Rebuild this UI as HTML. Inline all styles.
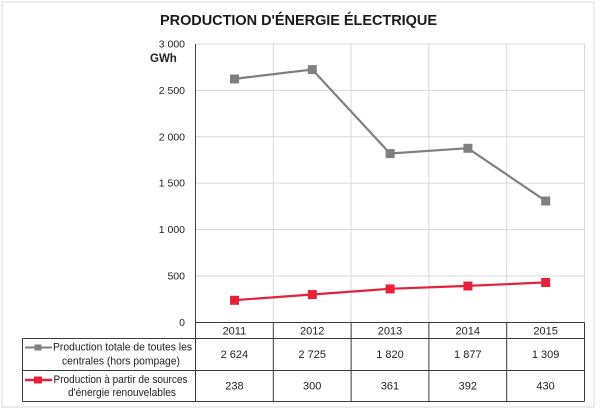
<!DOCTYPE html>
<html><head><meta charset="utf-8"><style>
html,body{margin:0;padding:0;background:#fff;}
svg{display:block;}
text{font-family:"Liberation Sans",Arial,sans-serif;fill:#222;}
</style></head><body>
<svg width="600" height="410" viewBox="0 0 600 410" xmlns="http://www.w3.org/2000/svg">
<rect x="0" y="0" width="600" height="410" fill="#fff"/>
<rect x="2" y="2" width="592" height="405" fill="none" stroke="#d9d9d9" stroke-width="1"/>
<text x="298.5" y="25" font-size="14.5" font-weight="bold" text-anchor="middle" textLength="277" lengthAdjust="spacing" style="fill:#1a1a1a">PRODUCTION D'ÉNERGIE ÉLECTRIQUE</text>
<!-- horizontal gridlines -->
<g stroke="#d9d9d9" stroke-width="1">
<line x1="195.5" y1="44" x2="584.5" y2="44"/>
<line x1="195.5" y1="90.4" x2="584.5" y2="90.4"/>
<line x1="195.5" y1="136.8" x2="584.5" y2="136.8"/>
<line x1="195.5" y1="183.1" x2="584.5" y2="183.1"/>
<line x1="195.5" y1="229.5" x2="584.5" y2="229.5"/>
<line x1="195.5" y1="275.9" x2="584.5" y2="275.9"/>
<line x1="273.3" y1="44" x2="273.3" y2="322"/>
<line x1="351.1" y1="44" x2="351.1" y2="322"/>
<line x1="428.9" y1="44" x2="428.9" y2="322"/>
<line x1="506.7" y1="44" x2="506.7" y2="322"/>
<line x1="584.5" y1="44" x2="584.5" y2="322"/>
</g>
<!-- y axis labels -->
<g font-size="10.5" text-anchor="end">
<text x="185" y="47.5">3 000</text>
<text x="185" y="94">2 500</text>
<text x="185" y="140.3">2 000</text>
<text x="185" y="186.6">1 500</text>
<text x="185" y="233">1 000</text>
<text x="185" y="279.4">500</text>
<text x="185" y="325.8">0</text>
</g>
<text x="150" y="62" font-size="11.5" font-weight="bold">GWh</text>
<!-- y axis -->
<line x1="195.5" y1="44" x2="195.5" y2="322.5" stroke="#404040" stroke-width="1"/>
<!-- series -->
<polyline points="234.4,78.9 312.2,69.5 390,153.5 467.8,148.2 545.6,200.9" fill="none" stroke="#7f7f7f" stroke-width="2.2"/>
<g fill="#808080">
<rect x="230" y="74.5" width="9" height="9"/>
<rect x="307.8" y="65.1" width="9" height="9"/>
<rect x="385.6" y="149.1" width="9" height="9"/>
<rect x="463.4" y="143.8" width="9" height="9"/>
<rect x="541.2" y="196.5" width="9" height="9"/>
</g>
<polyline points="234.4,300.2 312.2,294.5 390,288.8 467.8,285.9 545.6,282.4" fill="none" stroke="#e2213b" stroke-width="2.2"/>
<g fill="#e8203a">
<rect x="230" y="295.8" width="9" height="9"/>
<rect x="307.8" y="290.1" width="9" height="9"/>
<rect x="385.6" y="284.4" width="9" height="9"/>
<rect x="463.4" y="281.5" width="9" height="9"/>
<rect x="541.2" y="278" width="9" height="9"/>
</g>
<!-- table -->
<g stroke="#3a3a3a" stroke-width="1" fill="none">
<line x1="195.5" y1="322.5" x2="584.5" y2="322.5"/>
<line x1="22.5" y1="338.5" x2="584.5" y2="338.5"/>
<line x1="22.5" y1="370.5" x2="584.5" y2="370.5"/>
<line x1="22.5" y1="401.5" x2="584.5" y2="401.5"/>
<line x1="22.5" y1="338.5" x2="22.5" y2="401.5"/>
<line x1="195.5" y1="322.5" x2="195.5" y2="401.5"/>
<line x1="273.3" y1="322.5" x2="273.3" y2="401.5"/>
<line x1="351.1" y1="322.5" x2="351.1" y2="401.5"/>
<line x1="428.9" y1="322.5" x2="428.9" y2="401.5"/>
<line x1="506.7" y1="322.5" x2="506.7" y2="401.5"/>
<line x1="584.5" y1="322.5" x2="584.5" y2="401.5"/>
</g>
<g font-size="11" text-anchor="middle">
<text x="234.4" y="334.5">2011</text>
<text x="312.2" y="334.5">2012</text>
<text x="390" y="334.5">2013</text>
<text x="467.8" y="334.5">2014</text>
<text x="545.6" y="334.5">2015</text>
<text x="234.4" y="358">2 624</text>
<text x="312.2" y="358">2 725</text>
<text x="390" y="358">1 820</text>
<text x="467.8" y="358">1 877</text>
<text x="545.6" y="358">1 309</text>
<text x="234.4" y="389.5">238</text>
<text x="312.2" y="389.5">300</text>
<text x="390" y="389.5">361</text>
<text x="467.8" y="389.5">392</text>
<text x="545.6" y="389.5">430</text>
</g>
<!-- legend keys -->
<line x1="25" y1="347.5" x2="52" y2="347.5" stroke="#7f7f7f" stroke-width="2"/>
<rect x="34.5" y="344.5" width="7" height="6" fill="#808080"/>
<line x1="25" y1="380" x2="52" y2="380" stroke="#e2213b" stroke-width="2.5"/>
<rect x="34" y="376.5" width="8" height="7" fill="#e8203a"/>
<g font-size="11" text-anchor="middle">
<text x="122.5" y="350.5" textLength="139" lengthAdjust="spacingAndGlyphs">Production totale de toutes les</text>
<text x="121" y="364.5" textLength="118" lengthAdjust="spacingAndGlyphs">centrales (hors pompage)</text>
<text x="120.5" y="383" textLength="134" lengthAdjust="spacingAndGlyphs">Production à partir de sources</text>
<text x="122" y="396" textLength="108" lengthAdjust="spacingAndGlyphs">d'énergie renouvelables</text>
</g>
</svg>
</body></html>
